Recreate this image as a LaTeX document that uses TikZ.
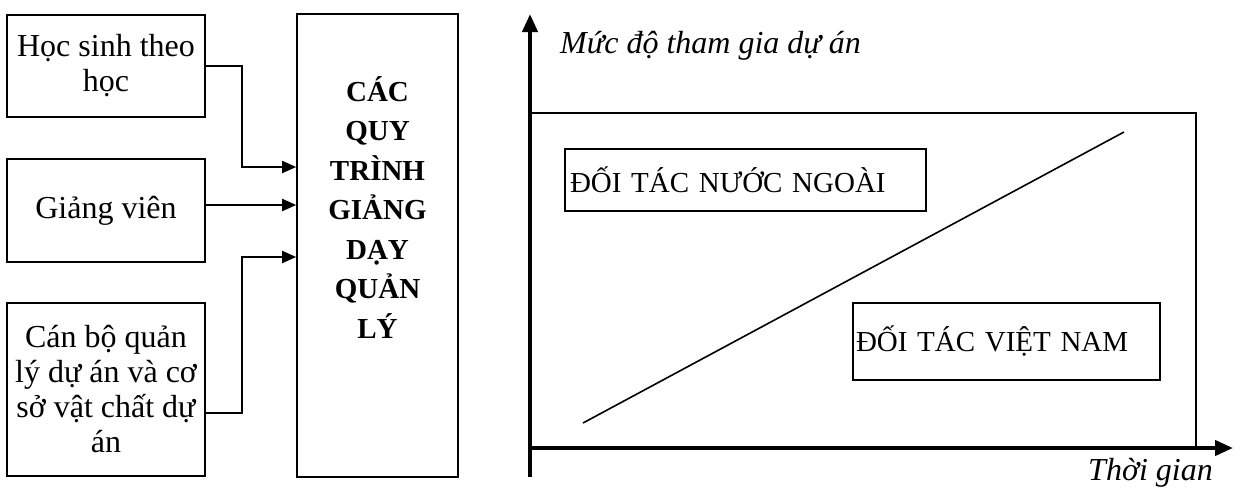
\documentclass[tikz,border=0pt]{standalone}
\usepackage{fontspec}
\setmainfont{Liberation Serif}
\usetikzlibrary{arrows.meta}

\begin{document}
\begin{tikzpicture}[%
	x=1pt,y=-1pt,>={Triangle[length=14pt,width=12pt]},
	khoi/.style={draw,line width=1.6pt,inner sep=0pt,align=center,
		font=\fontsize{32}{35}\selectfont},
	nhan/.style={draw,line width=1.6pt,inner ysep=0pt,align=left,
		font=\fontsize{29}{33}\selectfont},
	truc/.style={line width=4pt,-{Triangle[length=18pt,width=15pt]}},
	noi/.style={line width=1.8pt,->}]

	\useasboundingbox (0,0) rectangle (1238,490);

	\node[khoi,minimum width=198pt,minimum height=102pt]	(HS)	at (106,66)		{Học sinh theo\\học};
	\node[khoi,minimum width=198pt,minimum height=103pt]	(GV)	at (106,210.5)	{Giảng viên};
	\node[khoi,minimum width=198pt,minimum height=173pt]	(CB)	at (106,389.5)
		{Cán bộ quản\\lý dự án và cơ\\sở vật chất dự\\án};

	\node[draw,line width=1.6pt,minimum width=161pt,minimum height=463pt]	(QT)	at (377.5,245.5) {};
	\node[anchor=north,inner sep=0pt,align=center,font=\bfseries\fontsize{29}{39.5}\selectfont]	(QTT)
		at (377.5,76) {CÁC\\QUY\\TRÌNH\\GIẢNG\\DẠY\\QUẢN\\LÝ};

	\draw[noi] (HS.east) -- ++(36,0) |- (QT.west |- 0,167);
	\draw[noi] (GV.east |- 0,205) -- (QT.west |- 0,205);
	\draw[noi] (CB.east |- 0,413) -- ++(36,0) |- (QT.west |- 0,257);

	\coordinate (O)		at (530,448);
	\coordinate (Y0)	at (530,477);
	\coordinate (Y1)	at (530,14);
	\coordinate (X0)	at (528,448);
	\coordinate (X1)	at (1233,448);

	\draw[line width=1.6pt] (O) rectangle (1196,113);
	\draw[truc] (Y0) -- (Y1);
	\draw[truc] (X0) -- (X1);

	\draw[line width=1.6pt] (583,423) -- (1124,132);

	\node[nhan,inner xsep=5pt,text width=351pt,minimum height=62pt]	(NN)	at (745.5,180)	{ĐỐI TÁC NƯỚC NGOÀI};
	\node[nhan,inner xsep=3pt,text width=301pt,minimum height=77pt]	(VN)	at (1006.5,341.5)	{ĐỐI TÁC VIỆT NAM};

	\node[anchor=base west,inner sep=0pt,font=\itshape\fontsize{32}{36}\selectfont]	(TY)	at (560,53)		{Mức độ tham gia dự án};
	\node[anchor=base west,inner sep=0pt,font=\itshape\fontsize{32}{36}\selectfont]	(TX)	at (1088,480)	{Thời gian};

\end{tikzpicture}
\end{document}
